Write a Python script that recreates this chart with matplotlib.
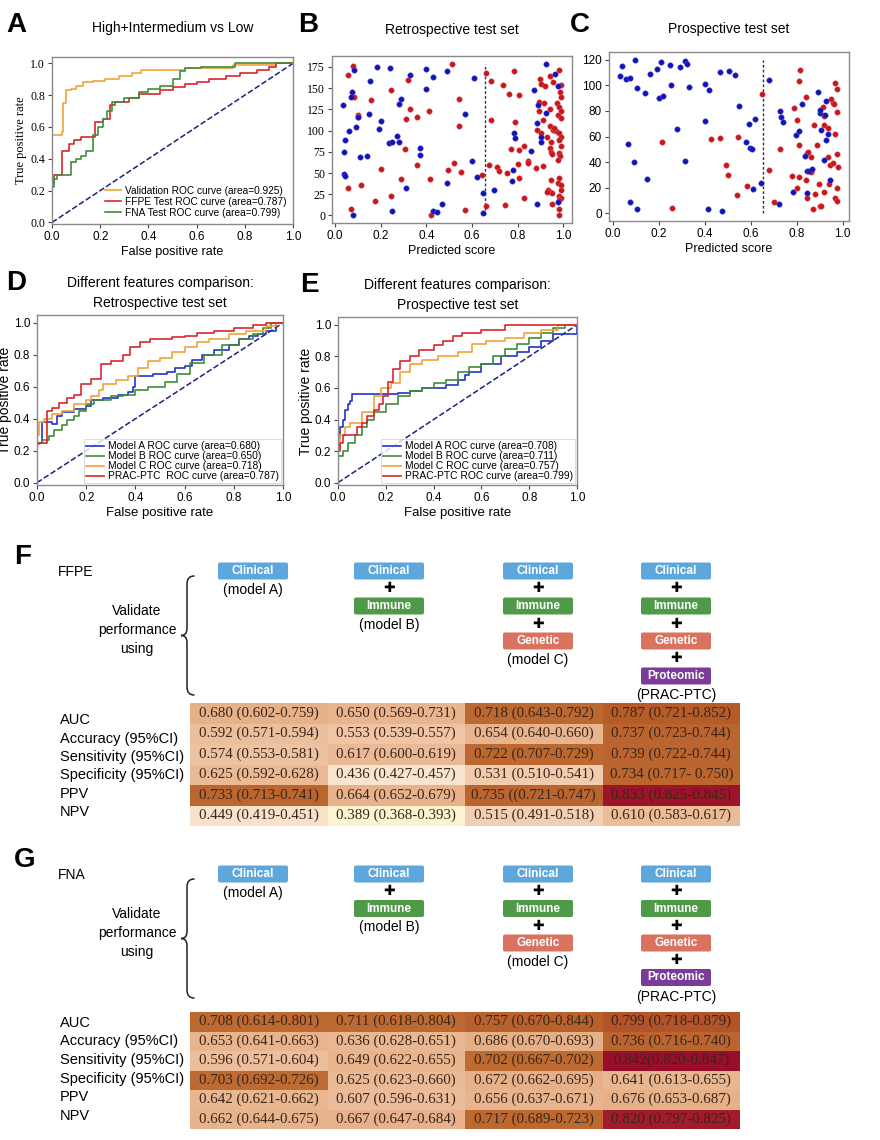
import matplotlib
matplotlib.use('Agg')
import matplotlib.pyplot as plt
from matplotlib.colors import LinearSegmentedColormap
from matplotlib.patches import FancyBboxPatch, Rectangle, PathPatch
from matplotlib.path import Path

plt.rcParams['font.family'] = ['Liberation Sans', 'DejaVu Sans']
SERIF = ['Liberation Serif', 'DejaVu Serif']

# ---------------- data ----------------
# Panel A: ROC curves (fpr, tpr corner points)
VAL_FPR = [0, 0, 0.04, 0.045, 0.06, 0.08, 0.10, 0.13, 0.17, 0.22, 0.28, 0.33, 0.37, 0.55, 0.75, 0.93, 1.0]
VAL_TPR = [0, 0.55, 0.57, 0.75, 0.83, 0.84, 0.86, 0.88, 0.89, 0.90, 0.92, 0.94, 0.96, 0.97, 0.99, 1.0, 1.0]
FFPE_FPR = [0, 0, 0.01, 0.04, 0.07, 0.09, 0.12, 0.18, 0.21, 0.24, 0.26, 0.32, 0.36, 0.45, 0.50, 0.55, 0.60,
            0.65, 0.72, 0.78, 0.85, 0.90, 0.93, 1.0]
FFPE_TPR = [0, 0.25, 0.30, 0.45, 0.49, 0.52, 0.54, 0.63, 0.65, 0.74, 0.76, 0.78, 0.81, 0.83, 0.85, 0.87, 0.88,
            0.90, 0.92, 0.94, 0.96, 0.98, 1.0, 1.0]
FNA_FPR = [0, 0, 0.01, 0.02, 0.08, 0.10, 0.12, 0.14, 0.17, 0.19, 0.21, 0.23, 0.25, 0.30, 0.36, 0.40, 0.45,
           0.50, 0.53, 0.55, 0.62, 0.76, 1.0]
FNA_TPR = [0, 0.22, 0.27, 0.30, 0.38, 0.40, 0.42, 0.45, 0.55, 0.60, 0.65, 0.70, 0.76, 0.78, 0.82, 0.84, 0.86,
           0.90, 0.95, 0.97, 0.98, 1.0, 1.0]
A_LABELS = ['Validation ROC curve (area=0.925)', 'FFPE Test ROC curve (area=0.787)',
            'FNA Test ROC curve (area=0.799)']

# Panel B: retrospective test set (predicted score, sample index)
B_RED_X = [0.078, 0.056, 0.514, 0.318, 0.246, 0.158, 0.082, 0.543, 0.328, 0.413, 0.10, 0.10, 0.31, 0.36,
           0.543, 0.307, 0.36, 0.20, 0.52, 0.495, 0.553, 0.114, 0.056, 0.29, 0.417, 0.243, 0.173, 0.07,
           0.568, 0.42, 0.644, 0.659, 0.659,
           0.783, 0.685, 0.736, 0.761, 0.805, 0.897, 0.90, 0.941, 0.953, 0.981, 0.988, 0.919, 0.985, 0.988,
           0.893, 0.913, 0.97, 0.893, 0.943, 0.981, 0.99, 0.975, 0.99, 0.681, 0.79, 0.912, 0.883, 0.90,
           0.941, 0.956, 0.966, 0.96, 0.981, 0.99, 0.927, 0.944, 0.981, 0.77, 0.805, 0.827, 0.941, 0.99,
           0.946, 0.95, 0.98, 0.987, 0.975, 0.843, 0.843, 0.802, 0.672, 0.707, 0.717, 0.751, 0.878, 0.909,
           0.805, 0.827, 0.744, 0.944, 0.981, 0.975, 0.99, 0.934, 0.941, 0.949, 0.93, 0.981, 0.99, 0.981,
           0.99, 0.952, 0.981, 0.981]
B_RED_Y = [176, 165, 179, 160, 148, 136, 140, 137, 125, 123, 118, 116, 114, 116,
           106, 78, 60, 55, 62, 53, 51, 36, 32, 43, 43, 23, 17, 8,
           6, 0, 48, 168, 11,
           170, 159, 154, 143, 142, 161, 155, 164, 157, 172, 154, 152, 145, 140,
           134, 132, 133, 123, 125, 128, 123, 118, 115, 112, 110, 113, 101, 97,
           105, 101, 99, 103, 97, 92, 92, 87, 89, 78, 77, 82, 80, 82,
           75, 72, 73, 70, 65, 64, 62, 61, 59, 57, 52, 50, 56, 58,
           44, 21, 12, 42, 44, 38, 36, 30, 28, 26, 28, 23, 21, 18,
           30, 14, 8, 1]
B_BLUE_X = [0.082, 0.185, 0.24, 0.33, 0.40, 0.43, 0.49, 0.61, 0.075, 0.154, 0.07, 0.034, 0.29, 0.28, 0.40,
            0.15, 0.10, 0.20, 0.19, 0.09, 0.06, 0.044, 0.27, 0.236, 0.25, 0.28, 0.037, 0.37, 0.37, 0.107,
            0.14, 0.04, 0.044, 0.60, 0.57, 0.31, 0.49, 0.62, 0.647, 0.47, 0.43, 0.445, 0.25, 0.078, 0.646,
            0.922, 0.963, 0.975, 0.871, 0.89, 0.922, 0.883, 0.785, 0.79, 0.90, 0.90, 0.856, 0.78, 0.773,
            0.697, 0.883, 0.975]
B_BLUE_Y = [172, 175, 174, 166, 173, 163, 170, 162, 146, 158, 140, 130, 137, 131, 149,
            120, 116, 111, 102, 104, 99, 89, 94, 85, 87, 86, 75, 80, 71, 69,
            70, 49, 47, 64, 120, 32, 38, 45, 27, 14, 5, 4, 5, 1, 3,
            178, 167, 152, 148, 130, 121, 109, 97, 91, 92, 86, 76, 54, 41,
            30, 13, 16]

# Panel C: prospective test set
C_BLUE_X = [0.03, 0.04, 0.058, 0.072, 0.097, 0.106, 0.14, 0.16, 0.19, 0.207, 0.20, 0.217, 0.25, 0.254,
            0.293, 0.312, 0.322, 0.33, 0.40, 0.42, 0.464, 0.507, 0.53, 0.55, 0.678, 0.067, 0.09, 0.28,
            0.314, 0.15, 0.075, 0.104, 0.40, 0.414, 0.475, 0.577, 0.59, 0.597, 0.607, 0.62, 0.61, 0.646,
            0.725, 0.73, 0.742, 0.723, 0.782, 0.797, 0.81, 0.825, 0.838, 0.845, 0.852, 0.867, 0.843,
            0.893, 0.90, 0.90, 0.907, 0.923, 0.929, 0.928, 0.935, 0.92, 0.945]
C_BLUE_Y = [107, 115, 105, 106, 120, 98, 94, 109, 113, 118, 90, 92, 116, 100,
            114, 119, 117, 99, 101, 96, 110, 111, 108, 84, 104, 54, 40, 66,
            41, 27, 9, 3, 72, 3, 2, 56, 70, 51, 50, 74, 19, 24,
            80, 75, 71, 7, 17, 61, 64, 85, 45, 33, 33, 35, 16,
            95, 78, 81, 65, 77, 88, 57, 62, 42, 26]
C_RED_X = [0.215, 0.258, 0.65, 0.425, 0.464, 0.543, 0.49, 0.50, 0.584, 0.54, 0.70, 0.68, 0.729, 0.78,
           0.79, 0.80, 0.81, 0.815, 0.81, 0.81, 0.80, 0.84, 0.843, 0.843, 0.85, 0.84, 0.86, 0.86, 0.87,
           0.873, 0.88, 0.887, 0.898, 0.90, 0.907, 0.913, 0.917, 0.917, 0.92, 0.936, 0.936, 0.943, 0.942,
           0.95, 0.96, 0.963, 0.958, 0.966, 0.966, 0.968, 0.974, 0.974, 0.974, 0.977, 0.98, 0.977]
C_RED_Y = [56, 4, 93, 58, 59, 60, 38, 30, 21, 14, 9, 34, 50, 29,
           82, 73, 103, 112, 53, 28, 20, 26, 12, 47, 48, 91, 44, 32, 3,
           69, 15, 53, 23, 6, 6, 83, 76, 69, 17, 67, 44, 38, 23,
           89, 86, 85, 39, 62, 12, 102, 97, 79, 20, 46, 36, 10]
CUTOFF = 0.655

# Panel D: retrospective, different features
D_A_FPR = [0, 0, 0.02, 0.06, 0.08, 0.10, 0.15, 0.20, 0.22, 0.27, 0.33, 0.37, 0.39, 0.40, 0.47, 0.53, 0.56,
           0.60, 0.63, 0.67, 0.72, 0.78, 0.82, 0.86, 0.90, 0.93, 0.97, 1.0]
D_A_TPR = [0, 0.25, 0.38, 0.37, 0.42, 0.44, 0.46, 0.48, 0.52, 0.53, 0.55, 0.57, 0.60, 0.67, 0.68, 0.69,
           0.72, 0.73, 0.77, 0.80, 0.83, 0.86, 0.90, 0.92, 0.93, 0.95, 1.0, 1.0]
D_B_FPR = [0, 0, 0.02, 0.05, 0.07, 0.10, 0.12, 0.15, 0.17, 0.20, 0.23, 0.30, 0.35, 0.40, 0.45, 0.52, 0.57,
           0.62, 0.68, 0.75, 0.82, 0.88, 0.92, 0.95, 1.0]
D_B_TPR = [0, 0.25, 0.27, 0.29, 0.33, 0.36, 0.39, 0.42, 0.45, 0.49, 0.52, 0.54, 0.55, 0.58, 0.60, 0.63,
           0.68, 0.75, 0.80, 0.86, 0.90, 0.93, 0.97, 1.0, 1.0]
D_C_FPR = [0, 0, 0.01, 0.03, 0.06, 0.10, 0.15, 0.20, 0.22, 0.25, 0.27, 0.32, 0.37, 0.41, 0.45, 0.50, 0.55,
           0.60, 0.65, 0.70, 0.78, 0.85, 0.93, 0.97, 1.0]
D_C_TPR = [0, 0.30, 0.38, 0.40, 0.43, 0.45, 0.49, 0.52, 0.54, 0.58, 0.62, 0.64, 0.67, 0.72, 0.76, 0.78,
           0.82, 0.85, 0.88, 0.90, 0.93, 0.95, 0.98, 1.0, 1.0]
D_P_FPR = [0, 0, 0.01, 0.04, 0.06, 0.09, 0.12, 0.15, 0.18, 0.22, 0.26, 0.30, 0.35, 0.38, 0.42, 0.46, 0.55,
           0.60, 0.65, 0.72, 0.80, 0.88, 0.93, 1.0]
D_P_TPR = [0, 0.24, 0.25, 0.45, 0.47, 0.50, 0.53, 0.55, 0.62, 0.65, 0.74, 0.76, 0.80, 0.85, 0.88, 0.90,
           0.91, 0.92, 0.94, 0.95, 0.97, 0.99, 1.0, 1.0]
D_LABELS = ['Model A ROC curve (area=0.680)', 'Model B ROC curve (area=0.650)',
            'Model C ROC curve (area=0.718)', 'PRAC-PTC  ROC curve (area=0.787)']

# Panel E: prospective, different features
E_A_FPR = [0, 0, 0.01, 0.02, 0.03, 0.04, 0.05, 0.06, 0.25, 0.30, 0.35, 0.45, 0.50, 0.53, 0.55, 0.60, 0.68,
           0.75, 0.80, 0.85, 0.90, 1.0]
E_A_TPR = [0, 0.28, 0.35, 0.40, 0.46, 0.50, 0.52, 0.56, 0.57, 0.58, 0.60, 0.62, 0.65, 0.68, 0.70, 0.75,
           0.80, 0.83, 0.86, 0.90, 0.94, 1.0]
E_B_FPR = [0, 0, 0.02, 0.04, 0.07, 0.10, 0.12, 0.15, 0.20, 0.25, 0.30, 0.35, 0.40, 0.45, 0.50, 0.55, 0.60,
           0.65, 0.70, 0.75, 0.80, 0.85, 0.90, 0.95, 1.0]
E_B_TPR = [0, 0.17, 0.20, 0.25, 0.30, 0.35, 0.40, 0.45, 0.50, 0.55, 0.58, 0.60, 0.63, 0.65, 0.70, 0.73,
           0.75, 0.80, 0.85, 0.88, 0.92, 0.95, 0.98, 1.0, 1.0]
E_C_FPR = [0, 0, 0.01, 0.03, 0.05, 0.10, 0.15, 0.18, 0.22, 0.26, 0.30, 0.35, 0.42, 0.50, 0.56, 0.62, 0.70,
           0.78, 0.85, 0.92, 1.0]
E_C_TPR = [0, 0.22, 0.30, 0.35, 0.38, 0.45, 0.55, 0.60, 0.63, 0.70, 0.75, 0.78, 0.80, 0.83, 0.88, 0.90,
           0.92, 0.95, 0.97, 1.0, 1.0]
E_P_FPR = [0, 0, 0.01, 0.02, 0.08, 0.10, 0.12, 0.15, 0.17, 0.19, 0.21, 0.23, 0.26, 0.30, 0.34, 0.40, 0.44,
           0.48, 0.52, 0.60, 0.70, 1.0]
E_P_TPR = [0, 0.20, 0.25, 0.30, 0.35, 0.38, 0.42, 0.46, 0.50, 0.55, 0.64, 0.72, 0.77, 0.80, 0.84, 0.87,
           0.90, 0.93, 0.95, 0.97, 1.0, 1.0]
E_LABELS = ['Model A ROC curve (area=0.708)', 'Model B ROC curve (area=0.711)',
            'Model C ROC curve (area=0.757)', 'PRAC-PTC ROC curve (area=0.799)']

# Panels F / G: model definitions and performance tables
MODEL_FEATURES = [['Clinical'],
                  ['Clinical', 'Immune'],
                  ['Clinical', 'Immune', 'Genetic'],
                  ['Clinical', 'Immune', 'Genetic', 'Proteomic']]
MODEL_NAMES = ['(model A)', '(model B)', '(model C)', '(PRAC-PTC)']
METRICS = ['AUC', 'Accuracy (95%CI)', 'Sensitivity (95%CI)', 'Specificity (95%CI)', 'PPV', 'NPV']

FFPE_CELLS = [
    ['0.680 (0.602-0.759)', '0.650 (0.569-0.731)', '0.718 (0.643-0.792)', '0.787 (0.721-0.852)'],
    ['0.592 (0.571-0.594)', '0.553 (0.539-0.557)', '0.654 (0.640-0.660)', '0.737 (0.723-0.744)'],
    ['0.574 (0.553-0.581)', '0.617 (0.600-0.619)', '0.722 (0.707-0.729)', '0.739 (0.722-0.744)'],
    ['0.625 (0.592-0.628)', '0.436 (0.427-0.457)', '0.531 (0.510-0.541)', '0.734 (0.717- 0.750)'],
    ['0.733 (0.713-0.741)', '0.664 (0.652-0.679)', '0.735 ((0.721-0.747)', '0.833 (0.825-0.845)'],
    ['0.449 (0.419-0.451)', '0.389 (0.368-0.393)', '0.515 (0.491-0.518)', '0.610 (0.583-0.617)'],
]
FNA_CELLS = [
    ['0.708 (0.614-0.801)', '0.711 (0.618-0.804)', '0.757 (0.670-0.844)', '0.799 (0.718-0.879)'],
    ['0.653 (0.641-0.663)', '0.636 (0.628-0.651)', '0.686 (0.670-0.693)', '0.736 (0.716-0.740)'],
    ['0.596 (0.571-0.604)', '0.649 (0.622-0.655)', '0.702 (0.667-0.702)', '0.842(0.820-0.847)'],
    ['0.703 (0.692-0.726)', '0.625 (0.623-0.660)', '0.672 (0.662-0.695)', '0.641 (0.613-0.655)'],
    ['0.642 (0.621-0.662)', '0.607 (0.596-0.631)', '0.656 (0.637-0.671)', '0.676 (0.653-0.687)'],
    ['0.662 (0.644-0.675)', '0.667 (0.647-0.684)', '0.717 (0.689-0.723)', '0.820 (0.797-0.825)'],
]

# ---------------- styling ----------------
ORANGE, RED, GREEN, BLUE = '#f2a23a', '#d8262b', '#3f8c3a', '#2233cc'
DOT_RED, DOT_BLUE = '#c8161b', '#1414b4'
SPINE = '#8a8a8a'
BOX_COLORS = {'Clinical': '#5ea7dd', 'Immune': '#4f9a48', 'Genetic': '#d9725f', 'Proteomic': '#7a3c98'}

W, H = 880, 1140
fig = plt.figure(figsize=(W / 100, H / 100), dpi=100)


def px_axes(x0, y0, x1, y1):
    """Axes placed from a pixel box (top-left origin)"""
    return fig.add_axes([x0 / W, 1 - y1 / H, (x1 - x0) / W, (y1 - y0) / H])


def style_axes(ax, serif_y=False, serif_x=False):
    for s in ax.spines.values():
        s.set_color(SPINE)
        s.set_linewidth(1.0)
    ax.tick_params(direction='out', length=3, width=0.8, color='#444', labelsize=8.5, pad=2)
    if serif_y:
        for t in ax.get_yticklabels():
            t.set_fontfamily(SERIF)
    if serif_x:
        for t in ax.get_xticklabels():
            t.set_fontfamily(SERIF)


def roc_axes(ax):
    ax.plot([0, 1], [0, 1], color='#1a237e', lw=1.1, ls='--')
    ax.set_xlim(0, 1.0)
    ax.set_ylim(-0.015, 1.05)
    ax.set_xticks([0, 0.2, 0.4, 0.6, 0.8, 1.0])
    ax.set_yticks([0, 0.2, 0.4, 0.6, 0.8, 1.0])


def letter(x, y, s):
    fig.text(x / W, 1 - y / H, s, fontsize=20, fontweight='bold', ha='left', va='center')


# ---------------- Panel A ----------------
ax = px_axes(52, 57, 293, 224)
roc_axes(ax)
ax.set_ylim(-0.01, 1.04)
ax.plot(VAL_FPR, VAL_TPR, drawstyle='steps-post', color=ORANGE, lw=1.2, label=A_LABELS[0])
ax.plot(FFPE_FPR, FFPE_TPR, drawstyle='steps-post', color=RED, lw=1.2, label=A_LABELS[1])
ax.plot(FNA_FPR, FNA_TPR, drawstyle='steps-post', color=GREEN, lw=1.2, label=A_LABELS[2])
ax.set_title('High+Intermedium vs Low', fontsize=10, pad=18)
ax.set_xlabel('False positive rate', fontsize=9, labelpad=2)
ax.set_ylabel('True positive rate', fontsize=9, family=SERIF, labelpad=2)
ax.legend(loc='lower right', frameon=False, fontsize=7.3, handlelength=1.6, labelspacing=0.1,
          borderaxespad=0.2, handletextpad=0.4)
style_axes(ax, serif_y=True)
letter(6, 25, 'A')

# ---------------- Panel B ----------------
ax = px_axes(332, 56, 572, 223)
ax.scatter(B_RED_X, B_RED_Y, s=16, color=DOT_RED, edgecolors='#e07070', linewidths=0.3, zorder=3)
ax.scatter(B_BLUE_X, B_BLUE_Y, s=16, color=DOT_BLUE, edgecolors='#6060e0', linewidths=0.3, zorder=3)
ax.plot([CUTOFF, CUTOFF], [0, max(B_RED_Y)], color='#333', ls=(0, (2, 1.5)), lw=1.0)
ax.set_xticks([0, 0.2, 0.4, 0.6, 0.8, 1.0])
ax.set_yticks(range(0, 176, 25))
ax.set_title('Retrospective test set', fontsize=10, pad=16)
ax.set_xlabel('Predicted score', fontsize=9, labelpad=2)
style_axes(ax, serif_y=True)
letter(298, 25, 'B')

# ---------------- Panel C ----------------
ax = px_axes(609, 52, 849, 221)
ax.scatter(C_RED_X, C_RED_Y, s=16, color=DOT_RED, edgecolors='#e07070', linewidths=0.3, zorder=3)
ax.scatter(C_BLUE_X, C_BLUE_Y, s=16, color=DOT_BLUE, edgecolors='#6060e0', linewidths=0.3, zorder=3)
ax.plot([CUTOFF, CUTOFF], [0, max(C_BLUE_Y)], color='#333', ls=(0, (2, 1.5)), lw=1.0)
ax.set_xticks([0, 0.2, 0.4, 0.6, 0.8, 1.0])
ax.set_yticks(range(0, 121, 20))
ax.set_title('Prospective test set', fontsize=10, pad=14)
ax.set_xlabel('Predicted score', fontsize=9, labelpad=2)
style_axes(ax)
letter(570, 25, 'C')

# ---------------- Panels D / E ----------------
def feature_roc(box, curves, labels, title):
    ax = px_axes(*box)
    roc_axes(ax)
    for (fpr, tpr), color, lab in zip(curves, [BLUE, GREEN, ORANGE, RED], labels):
        ax.plot(fpr, tpr, drawstyle='steps-post', color=color, lw=1.2, label=lab)
    ax.set_title(title, fontsize=10, pad=6, linespacing=1.5)
    ax.set_xlabel('False positive rate', fontsize=9.5, labelpad=2)
    ax.set_ylabel('True positive rate', fontsize=10, labelpad=1)
    leg = ax.legend(loc='lower right', fontsize=7.4, handlelength=1.8, labelspacing=0.0,
                    borderaxespad=0.15, borderpad=0.2, handletextpad=0.4, fancybox=False)
    leg.get_frame().set_edgecolor('#cccccc')
    leg.get_frame().set_linewidth(0.6)
    style_axes(ax)
    return ax


feature_roc((37, 315, 283, 485),
            [(D_A_FPR, D_A_TPR), (D_B_FPR, D_B_TPR), (D_C_FPR, D_C_TPR), (D_P_FPR, D_P_TPR)],
            D_LABELS, 'Different features comparison:\nRetrospective test set')
letter(6, 283, 'D')
feature_roc((338, 317, 577, 485),
            [(E_A_FPR, E_A_TPR), (E_B_FPR, E_B_TPR), (E_C_FPR, E_C_TPR), (E_P_FPR, E_P_TPR)],
            E_LABELS, 'Different features comparison:\nProspective test set')
letter(300, 285, 'E')

# ---------------- Panels F / G (pixel overlay) ----------------
ov = fig.add_axes([0, 0, 1, 1])
ov.set_xlim(0, W)
ov.set_ylim(H, 0)
ov.axis('off')

COL_X = [253, 389, 538, 676]
BOX_W, BOX_H = 70, 17
TABLE_X0, CELL_W = 190, 137.5

cmap = LinearSegmentedColormap.from_list('perf', [
    (0.0, '#fdf5d2'), (0.15, '#f8e1cb'), (0.36, '#efc6a6'), (0.66, '#e5ae86'),
    (0.68, '#be6c33'), (0.89, '#b45a28'), (0.925, '#a2202d'), (1.0, '#960a2a')])
VMIN, VMAX = 0.38, 0.85


def brace(x, y0, y1):
    """Left curly brace: ends at x+7, spine at x, tip pointing left at x-6"""
    mid = (y0 + y1) / 2
    xe, xm, xt = x + 7, x, x - 6
    verts = [(xe, y0), (xm, y0), (xm, y0 + 8), (xm, mid - 7), (xm, mid), (xt, mid),
             (xm, mid), (xm, mid + 7), (xm, y1 - 8), (xm, y1), (xe, y1)]
    codes = [Path.MOVETO, Path.CURVE3, Path.CURVE3, Path.LINETO, Path.CURVE3, Path.CURVE3,
             Path.CURVE3, Path.CURVE3, Path.LINETO, Path.CURVE3, Path.CURVE3]
    ov.add_patch(PathPatch(Path(verts, codes), fill=False, lw=1.1, color='#222', capstyle='round'))


def model_panel(tag, name, top, step, label_y, table_top, row_h, cells, text_x):
    letter(14, top - 14, tag)
    ov.text(text_x, top + 1, name, fontsize=10, va='center', ha='left')
    ov.text(137, top + 59, 'Validate\nperformance\nusing', fontsize=10, ha='center', va='center',
            linespacing=1.45)
    brace(187, top + 5, top + 124)
    for cx, feats, mname in zip(COL_X, MODEL_FEATURES, MODEL_NAMES):
        for k, feat in enumerate(feats):
            cy = top + k * step
            ov.add_patch(FancyBboxPatch((cx - BOX_W / 2, cy - BOX_H / 2), BOX_W, BOX_H,
                                        boxstyle='round,pad=0,rounding_size=2',
                                        fc=BOX_COLORS[feat], ec='none'))
            ov.text(cx, cy, feat, color='white', fontsize=8.5, fontweight='bold', ha='center', va='center')
            if k < len(feats) - 1:
                ov.text(cx, cy + step / 2, '\u271a', fontsize=10, ha='center', va='center',
                        family=['DejaVu Sans'])
        ov.text(cx, top + (len(feats) - 1) * step + 19, mname, fontsize=10, ha='center', va='center')
    # performance table
    for r, row in enumerate(cells):
        ry = table_top + r * row_h
        ov.text(text_x + 2, label_y + r * 18.5, METRICS[r], fontsize=10.5, ha='left', va='center')
        for c, txt in enumerate(row):
            val = float(txt[:5])
            fc = cmap((val - VMIN) / (VMAX - VMIN))
            ov.add_patch(Rectangle((TABLE_X0 + c * CELL_W, ry), CELL_W, row_h, fc=fc, ec='none'))
            ov.text(TABLE_X0 + c * CELL_W + CELL_W / 2, ry + row_h / 2, txt, fontsize=10.8,
                    family=SERIF, ha='center', va='center', color='#3a2518')


model_panel('F', 'FFPE', 571, 35, 720, 703, 20.5, FFPE_CELLS, 58)
model_panel('G', 'FNA', 874, 34.5, 1023, 1012, 19.5, FNA_CELLS, 58)

fig.savefig('out.png', dpi=100)
